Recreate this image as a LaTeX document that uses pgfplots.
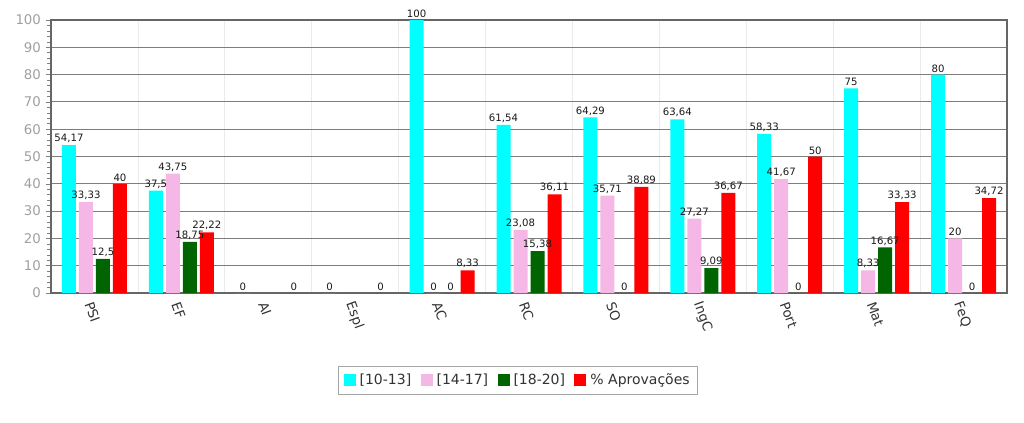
\documentclass[border=0pt]{standalone}
\usepackage{pgfplots}
\pgfplotsset{compat=1.18}
\usepackage{fontspec}
\setmainfont{DejaVu Sans}

\definecolor{cCyan}{RGB}{0,255,255}
\definecolor{cPink}{RGB}{245,183,229}
\definecolor{cGreen}{RGB}{0,100,0}
\definecolor{cRed}{RGB}{255,0,0}
\definecolor{gridc}{RGB}{125,125,125}
\definecolor{tickc}{RGB}{160,160,160}

\begin{document}
\begin{tikzpicture}
\begin{axis}[
    name=ax,
    scale only axis,
    width=717pt, height=204.75pt,
    xmin=-0.5, xmax=10.5,
    ymin=0, ymax=100,
    ytick={0,10,...,100},
    minor y tick num=4,
    xtick={0,...,10},
    xticklabels={PSI,EF,AI,Espl,AC,RC,SO,IngC,Port,Mat,FeQ},
    minor xtick={-0.5,0.5,...,10.5},
    tick align=outside,
    tick pos=left,
    major tick length=4pt,
    minor tick length=3pt,
    xtick style={draw=none},
    ymajorgrids,
    xminorgrids,
    grid style={draw=gridc, line width=0.75pt},
    minor x grid style={draw=black!8, line width=0.6pt},
    axis line style={draw=black!60, line width=0.9pt},
    every tick/.style={draw=black!50},
    y tick label style={font=\fontsize{10}{12}\selectfont, text=tickc},
    x tick label style={font=\fontsize{10}{12}\selectfont, text=black!80, rotate=-70, anchor=west, xshift=-2pt, yshift=-5pt},
    /pgf/number format/assume math mode=true,
    ybar=2.25pt,
    bar width=10.5pt,
    clip=false,
    nodes near coords,
    every node near coord/.append style={font=\fontsize{7.6}{9}\selectfont, text=black!90, inner sep=1.5pt},
    nodes near coords style={/pgf/number format/.cd, use comma, fixed, precision=2, 1000 sep={}},
    legend style={at={(0.4885,-0.32)}, anchor=center, legend columns=-1,
        draw=black!35, font=\fontsize{10.5}{12}\selectfont, text=black!80,
        /tikz/every even column/.append style={column sep=5pt},
        /tikz/every odd column/.append style={column sep=1pt},
        inner xsep=4pt, inner ysep=3.5pt},
    legend image code/.code={\fill[#1,draw=none] (0pt,-4.5pt) rectangle (9pt,4.5pt);},
]
\addplot[fill=cCyan, draw=none] coordinates {
  (0,54.17) (1,37.5) (2,0) (3,0) (4,100) (5,61.54) (6,64.29) (7,63.64) (8,58.33) (9,75) (10,80)};
\addplot[fill=cPink, draw=none] coordinates {
  (0,33.33) (1,43.75) (4,0) (5,23.08) (6,35.71) (7,27.27) (8,41.67) (9,8.33) (10,20)};
\addplot[fill=cGreen, draw=none] coordinates {
  (0,12.5) (1,18.75) (4,0) (5,15.38) (6,0) (7,9.09) (8,0) (9,16.67) (10,0)};
\addplot[fill=cRed, draw=none] coordinates {
  (0,40) (1,22.22) (2,0) (3,0) (4,8.33) (5,36.11) (6,38.89) (7,36.67) (8,50) (9,33.33) (10,34.72)};
\legend{{}[10-13],{}[14-17],{}[18-20],\% Aprovações}
\coordinate (o) at (rel axis cs:0,0);
\end{axis}
\path[use as bounding box] (o) ++(-38.25pt,-96.75pt) rectangle ++(768pt,316.5pt);
\end{tikzpicture}
\end{document}
